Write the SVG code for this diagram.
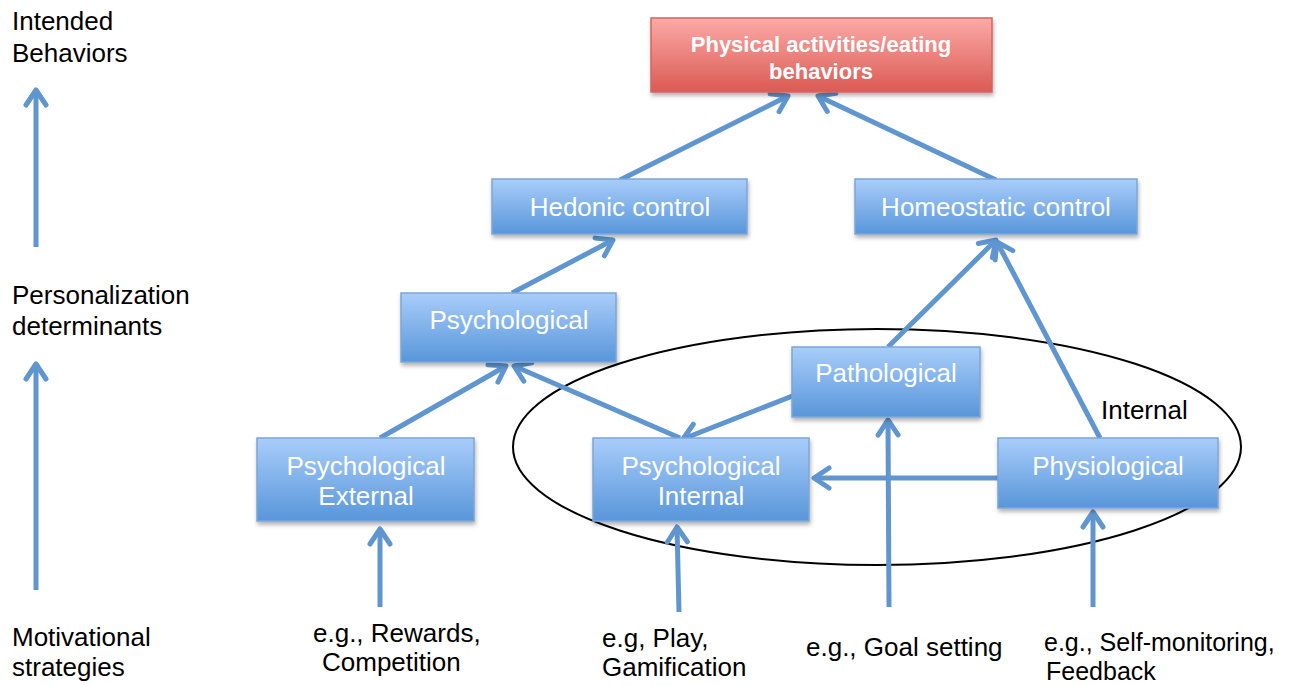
<svg xmlns="http://www.w3.org/2000/svg" width="1302" height="686" viewBox="0 0 1302 686">
<defs>
<linearGradient id="blueG" x1="0" y1="0" x2="0" y2="1">
<stop offset="0" stop-color="#a9cdfa"/>
<stop offset="1" stop-color="#5896da"/>
</linearGradient>
<linearGradient id="redG" x1="0" y1="0" x2="0" y2="1">
<stop offset="0" stop-color="#fcaaa6"/>
<stop offset="1" stop-color="#db5a54"/>
</linearGradient>
<filter id="sh" x="-10%" y="-10%" width="130%" height="140%">
<feDropShadow dx="1" dy="3" stdDeviation="2" flood-color="#000" flood-opacity="0.3"/>
</filter>
<marker id="ah" markerUnits="userSpaceOnUse" markerWidth="40" markerHeight="40" refX="0" refY="0" viewBox="-20 -20 40 40" orient="auto" overflow="visible">
<path d="M-15,-10 L0,0 L-15,10" fill="none" stroke="#5f96d0" stroke-width="5" stroke-linecap="round" stroke-linejoin="round"/>
</marker>
</defs>
<style>
.box{fill:url(#blueG);stroke:#7ba7d8;stroke-width:1.5;filter:url(#sh)}
.red{fill:url(#redG);stroke:#cf6762;stroke-width:1.5;filter:url(#sh)}
.bt{font-family:"Liberation Sans",Arial,sans-serif;font-size:26px;fill:#fff;text-anchor:middle}
.rt{font-family:"Liberation Sans",Arial,sans-serif;font-size:22px;font-weight:bold;fill:#fff;text-anchor:middle}
.lt{font-family:"Liberation Sans",Arial,sans-serif;font-size:26px;fill:#000}
.sm{font-size:25px}
.c{stroke:#5f96d0;stroke-width:5;fill:none;marker-end:url(#ah)}
.ell{fill:none;stroke:#000;stroke-width:2}
</style>
<rect width="1302" height="686" fill="#fff"/>

<g id="ellipse-internal">
<ellipse class="ell" cx="877" cy="447" rx="364" ry="118"/>
<text class="lt" x="1101" y="419">Internal</text>
</g>

<g id="connectors">
<line class="c" x1="620" y1="180" x2="788" y2="96"/>
<line class="c" x1="996" y1="180" x2="818" y2="96"/>
<line class="c" x1="512" y1="293" x2="613" y2="240"/>
<line class="c" x1="888" y1="347" x2="996" y2="240"/>
<line class="c" x1="1100" y1="438" x2="997" y2="242"/>
<line class="c" x1="380" y1="438" x2="506" y2="366"/>
<line class="c" x1="680" y1="438" x2="514" y2="366"/>
<line class="c" x1="795" y1="395" x2="683" y2="439"/>
<line class="c" x1="998" y1="478" x2="814" y2="478"/>
<line class="c" x1="380" y1="607" x2="380" y2="529"/>
<line class="c" x1="679" y1="612" x2="677" y2="527"/>
<line class="c" x1="889" y1="607" x2="888" y2="420"/>
<line class="c" x1="1093" y1="607" x2="1093" y2="512"/>
<line class="c" x1="36" y1="247" x2="36" y2="90"/>
<line class="c" x1="36" y1="590" x2="36" y2="364"/>
</g>

<g id="node-behaviors">
<rect class="red" x="651" y="18" width="341" height="74"/>
<text class="rt" x="821" y="52">Physical activities/eating</text>
<text class="rt" x="821" y="79">behaviors</text>
</g>
<g id="node-hedonic">
<rect class="box" x="492" y="179" width="255" height="55"/>
<text class="bt" x="620" y="216">Hedonic control</text>
</g>
<g id="node-homeostatic">
<rect class="box" x="855" y="179" width="282" height="55"/>
<text class="bt" x="996" y="216">Homeostatic control</text>
</g>
<g id="node-psychological">
<rect class="box" x="401" y="293" width="215" height="69"/>
<text class="bt" x="509" y="329">Psychological</text>
</g>
<g id="node-pathological">
<rect class="box" x="792" y="347" width="188" height="70"/>
<text class="bt" x="886" y="382">Pathological</text>
</g>
<g id="node-psych-external">
<rect class="box" x="257" y="438" width="217" height="83"/>
<text class="bt" x="366" y="475">Psychological</text>
<text class="bt" x="366" y="505">External</text>
</g>
<g id="node-psych-internal">
<rect class="box" x="593" y="438" width="216" height="83"/>
<text class="bt" x="701" y="475">Psychological</text>
<text class="bt" x="701" y="505">Internal</text>
</g>
<g id="node-physiological">
<rect class="box" x="998" y="438" width="220" height="70"/>
<text class="bt" x="1108" y="475">Physiological</text>
</g>

<g id="left-labels">
<text class="lt" x="12" y="30">Intended</text>
<text class="lt" x="12" y="62">Behaviors</text>
<text class="lt" x="12" y="304">Personalization</text>
<text class="lt" x="12" y="335">determinants</text>
<text class="lt" x="12" y="646">Motivational</text>
<text class="lt" x="12" y="676">strategies</text>
</g>

<g id="strategy-labels">
<text class="lt" x="313" y="642">e.g., Rewards,</text>
<text class="lt" x="322" y="671">Competition</text>
<text class="lt" x="602" y="647">e.g, Play,</text>
<text class="lt" x="602" y="676">Gamification</text>
<text class="lt" x="806" y="656">e.g., Goal setting</text>
<text class="lt sm" x="1044" y="651">e.g., Self-monitoring,</text>
<text class="lt sm" x="1046" y="680">Feedback</text>
</g>
</svg>
